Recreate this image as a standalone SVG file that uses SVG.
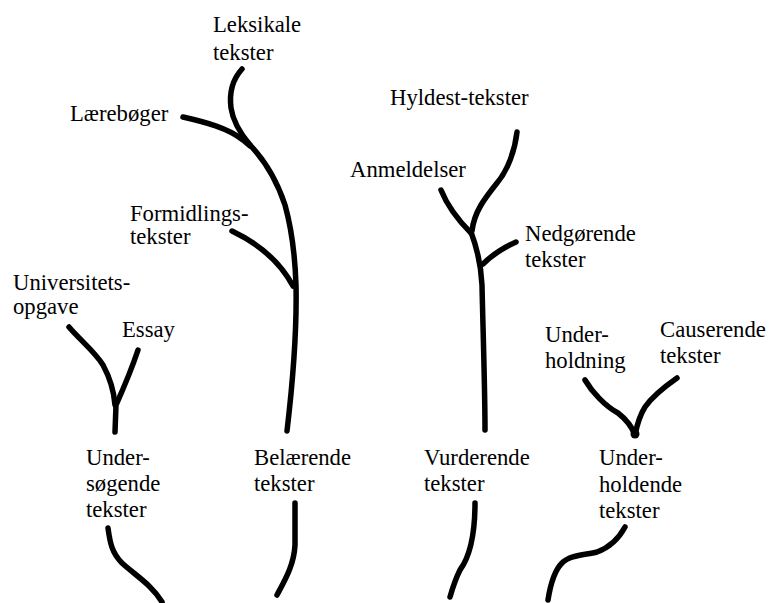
<svg xmlns="http://www.w3.org/2000/svg" width="771" height="603" viewBox="0 0 771 603">
<style>
.s{fill:none;stroke:#000;stroke-width:5.5;stroke-linecap:round;stroke-linejoin:round}
</style>
<rect width="771" height="603" fill="#fff"/>
<g id="connectors">
<path class="s" d="M242,69 C232,80 229,92 231,108 C233,122 240,133 250,145"/>
<path class="s" d="M183,117 C205,122 228,128 243,140 L250,146"/>
<path class="s" d="M245,140 C262,156 276,178 285,205 C292,230 295,255 296,285 C297,330 293,380 287,431"/>
<path class="s" d="M232,231 C255,242 278,258 293,286"/>
<path class="s" d="M295,503 L295,545 C294,565 285,580 277,595"/>
<path class="s" d="M69,327 C80,340 95,352 103,365 C110,378 114,392 115,405"/>
<path class="s" d="M138,350 C132,368 125,385 116,405 L115,432"/>
<path class="s" d="M108,528 C110,543 112,553 122,563 C135,575 152,585 162,602"/>
<path class="s" d="M517,132 C515,150 508,170 497,183 C485,198 474,212 472,231"/>
<path class="s" d="M441,190 C447,205 458,220 471,233"/>
<path class="s" d="M471,232 C477,248 481,263 482,285 C483,330 485,390 485,430"/>
<path class="s" d="M516,242 C505,247 492,255 483,264"/>
<path class="s" d="M475,503 C475,530 471,555 460,570 C455,580 452,590 450,597"/>
<path class="s" d="M585,380 C592,392 605,406 618,413 C627,420 632,427 635,435"/>
<path class="s" d="M677,378 C667,385 652,397 645,407 C640,415 637,425 635,435"/>
<circle cx="635" cy="434" r="4.5" fill="#000"/>
<path class="s" d="M625,527 C618,540 608,548 597,552 C585,555 570,555 562,563 C553,572 550,587 548,600"/>
</g>
<g font-family="Liberation Serif, DejaVu Serif, serif" font-size="22.7" fill="#000">
<g id="leksikale"><text x="213" y="32">Leksikale</text><text x="213" y="60">tekster</text></g>
<g id="laereboger"><text x="70" y="121">Lærebøger</text></g>
<g id="formidlings"><text x="130" y="221">Formidlings-</text><text x="130" y="244">tekster</text></g>
<g id="universitets"><text x="13" y="290">Universitets-</text><text x="13" y="314">opgave</text></g>
<g id="essay"><text x="122" y="337">Essay</text></g>
<g id="undersogende"><text x="86" y="465">Under-</text><text x="86" y="491">søgende</text><text x="86" y="517">tekster</text></g>
<g id="belaerende"><text x="254" y="465">Belærende</text><text x="254" y="491">tekster</text></g>
<g id="hyldest"><text x="390" y="105">Hyldest-tekster</text></g>
<g id="anmeldelser"><text x="350" y="177">Anmeldelser</text></g>
<g id="nedgorende"><text x="525" y="241">Nedgørende</text><text x="525" y="267">tekster</text></g>
<g id="vurderende"><text x="424" y="465">Vurderende</text><text x="424" y="491">tekster</text></g>
<g id="underholdning"><text x="545" y="342">Under-</text><text x="545" y="368">holdning</text></g>
<g id="causerende"><text x="660" y="337">Causerende</text><text x="660" y="363">tekster</text></g>
<g id="underholdende"><text x="599" y="465">Under-</text><text x="599" y="492">holdende</text><text x="599" y="518">tekster</text></g>
</g>
</svg>
